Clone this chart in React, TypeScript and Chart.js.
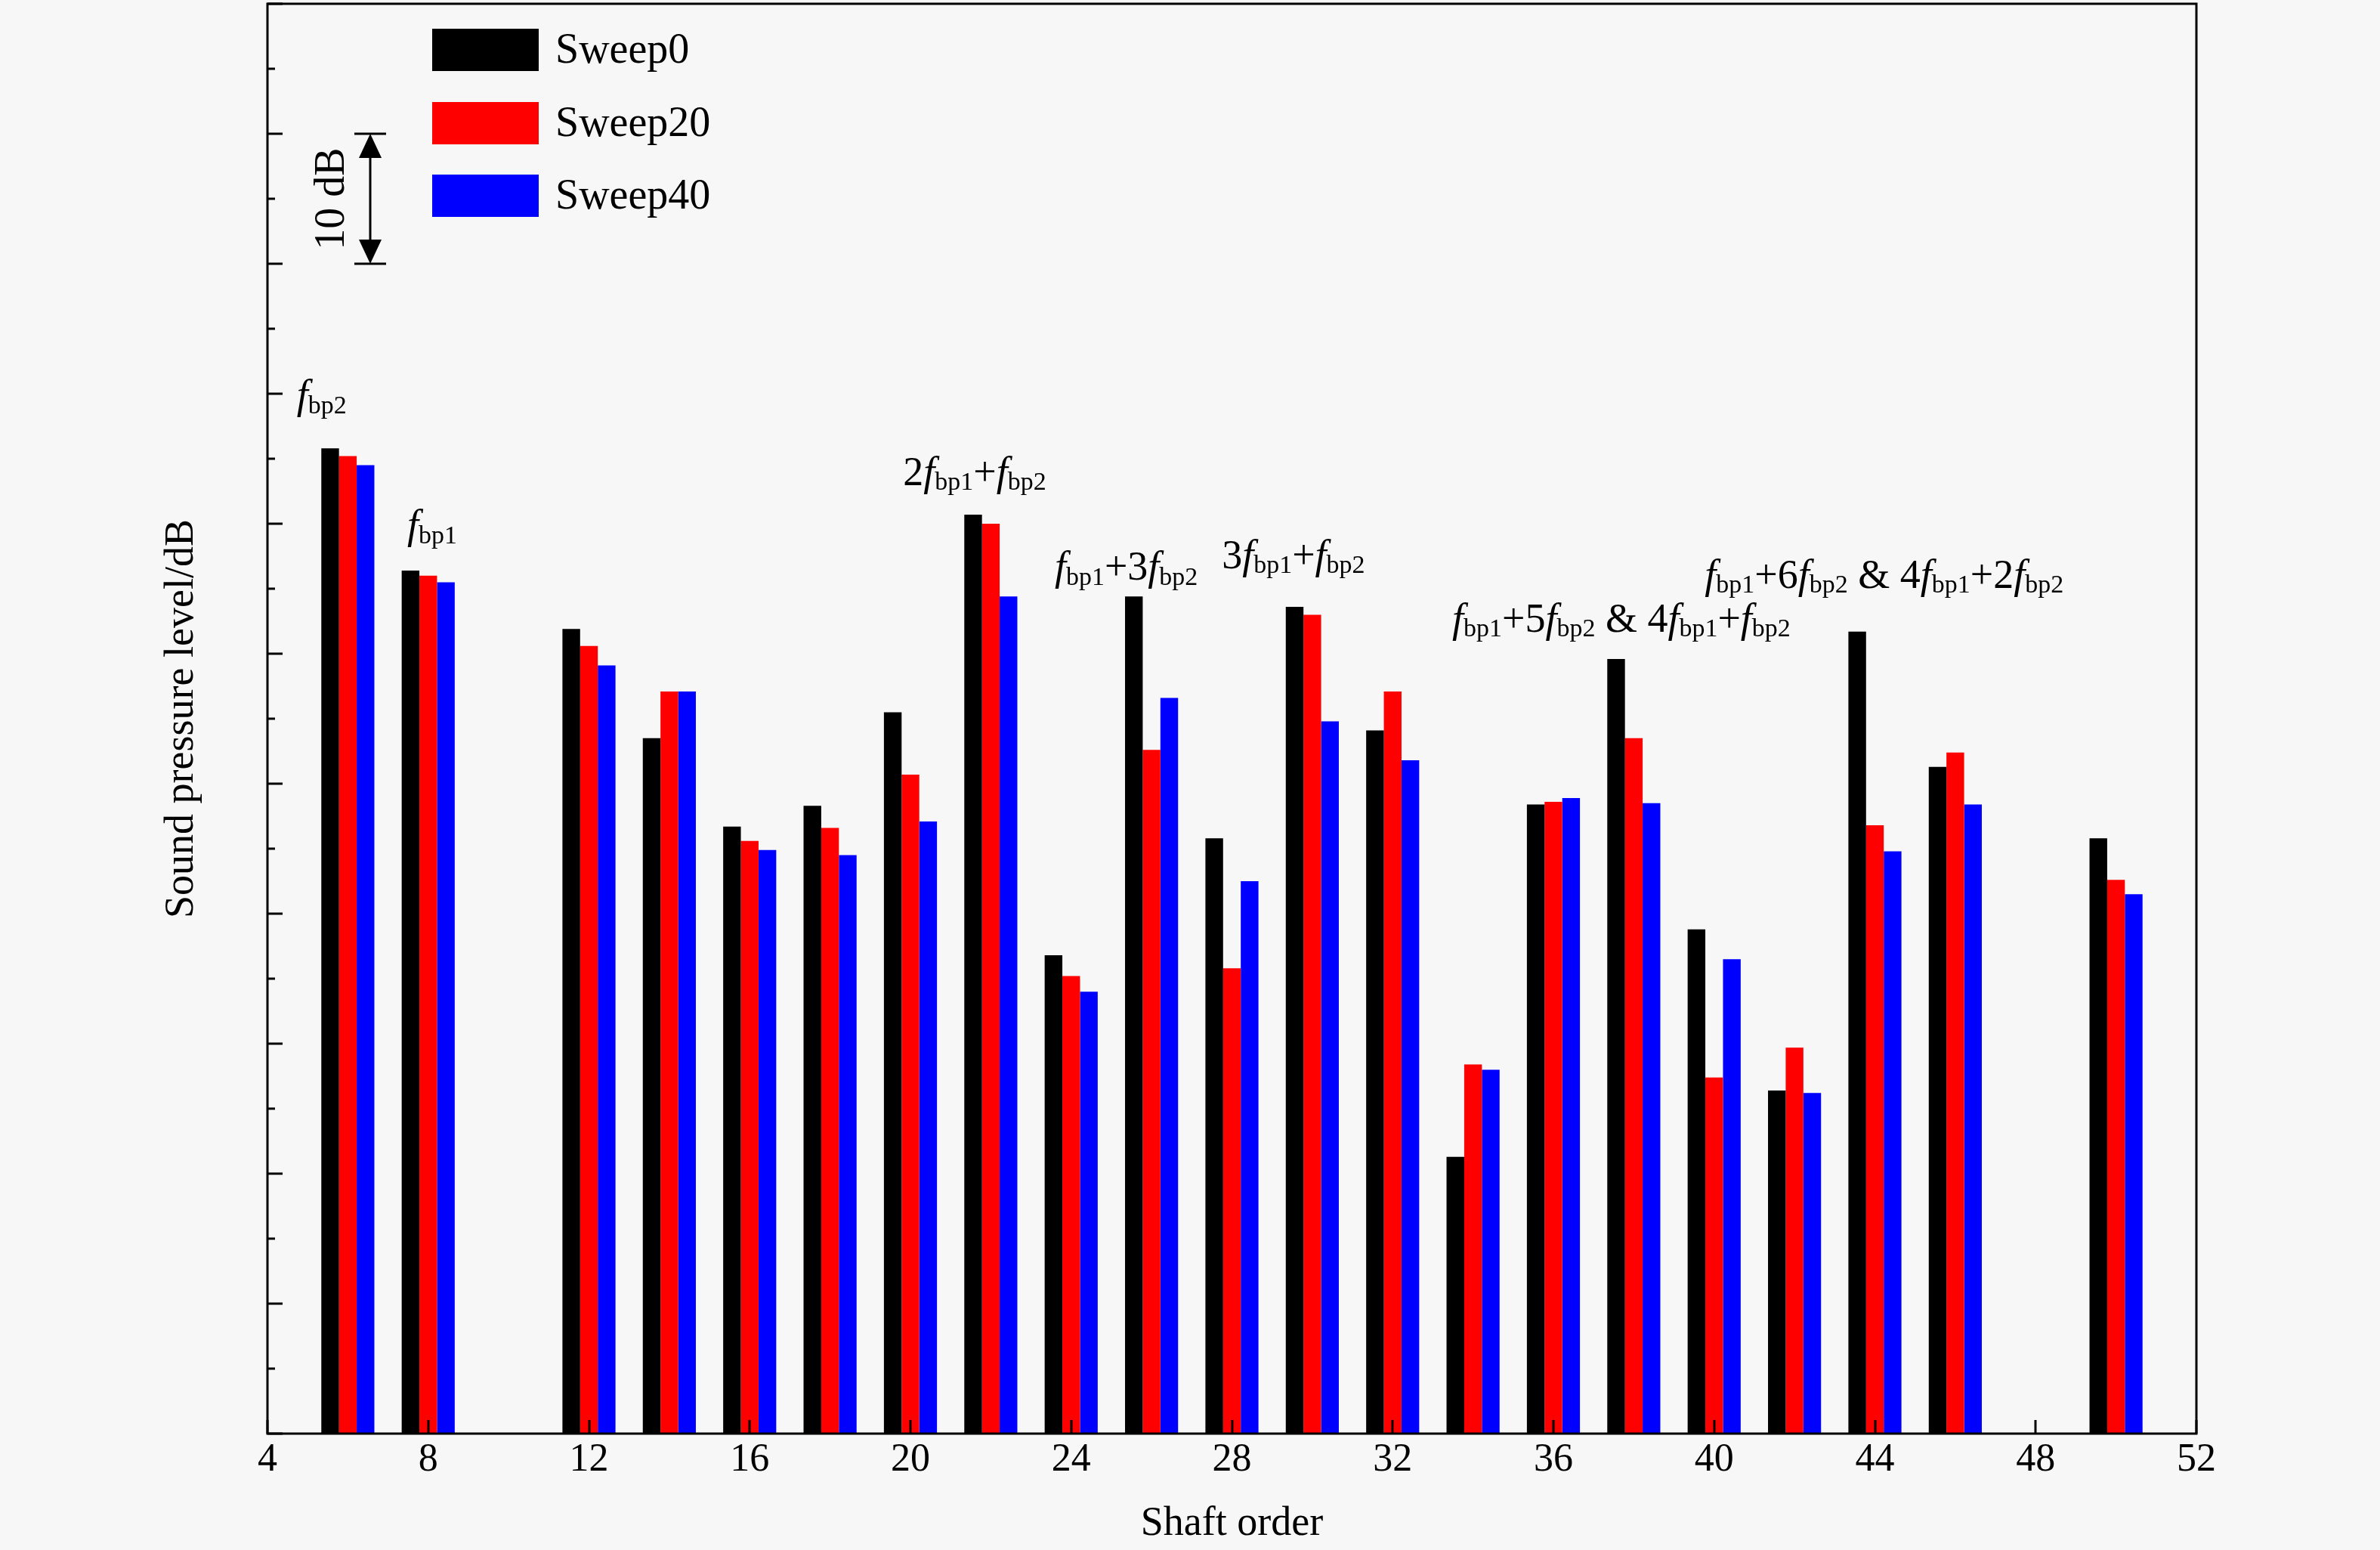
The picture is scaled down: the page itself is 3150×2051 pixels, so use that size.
import React, { useEffect, useRef } from 'react';
import { Chart, registerables } from 'chart.js';

Chart.register(...registerables);

// ---------- data ----------
const shaftOrders = [6, 8, 12, 14, 16, 18, 20, 22, 24, 26, 28, 30, 32, 34, 36, 38, 40, 42, 44, 46, 50];
const sweep0 = [75.8, 66.4, 61.9, 53.5, 46.7, 48.3, 55.5, 70.7, 36.8, 64.4, 45.8, 63.6, 54.1, 21.3, 48.4, 59.6, 38.8, 26.4, 61.7, 51.3, 45.8];
const sweep20 = [75.2, 66.0, 60.6, 57.1, 45.6, 46.6, 50.7, 70.0, 35.2, 52.6, 35.8, 63.0, 57.1, 28.4, 48.6, 53.5, 27.4, 29.7, 46.8, 52.4, 42.6];
const sweep40 = [74.5, 65.5, 59.1, 57.1, 44.9, 44.5, 47.1, 64.4, 34.0, 56.6, 42.5, 54.8, 51.8, 28.0, 48.9, 48.5, 36.5, 26.2, 44.8, 48.4, 41.5];
const seriesNames = ['Sweep0', 'Sweep20', 'Sweep40'];
const seriesColors = ['#000000', '#ff0000', '#0000ff'];
const seriesValues = [sweep0, sweep20, sweep40];

const xMin = 4;
const xMax = 52;
const xStep = 4;
const yMin = 0;
const yMax = 110;
const yStep = 5;

const xTitle = 'Shaft order';
const yTitle = 'Sound pressure level/dB';
const scaleBarLabel = '10 dB';
const scaleBarFrom = 100;
const scaleBarTo = 90;

// annotation segments: [text, kind]  n = normal, i = italic, s = subscript
type Seg = [string, 'n' | 'i' | 's'];
const annotationTexts: Seg[][] = [
  [['f', 'i'], ['bp2', 's']],
  [['f', 'i'], ['bp1', 's']],
  [['2', 'n'], ['f', 'i'], ['bp1', 's'], ['+', 'n'], ['f', 'i'], ['bp2', 's']],
  [['f', 'i'], ['bp1', 's'], ['+3', 'n'], ['f', 'i'], ['bp2', 's']],
  [['3', 'n'], ['f', 'i'], ['bp1', 's'], ['+', 'n'], ['f', 'i'], ['bp2', 's']],
  [['f', 'i'], ['bp1', 's'], ['+5', 'n'], ['f', 'i'], ['bp2', 's'], [' & 4', 'n'], ['f', 'i'], ['bp1', 's'], ['+', 'n'], ['f', 'i'], ['bp2', 's']],
  [['f', 'i'], ['bp1', 's'], ['+6', 'n'], ['f', 'i'], ['bp2', 's'], [' & 4', 'n'], ['f', 'i'], ['bp1', 's'], ['+2', 'n'], ['f', 'i'], ['bp2', 's']],
];
const annotationX = [5.35, 8.1, 21.6, 25.37, 29.53, 37.69, 44.23];
const annotationY = [79.7, 69.7, 73.8, 66.5, 67.4, 62.5, 65.9];

// ---------- styling ----------
const FONT = '"Liberation Serif", "Times New Roman", Times, serif';
const W = 3150;
const H = 2051;

function drawRich(ctx: CanvasRenderingContext2D, segs: Seg[], cx: number, baseY: number, main: number, sub: number) {
  const fontFor = (k: string) =>
    k === 'i' ? `italic ${main}px ${FONT}` : k === 's' ? `${sub}px ${FONT}` : `${main}px ${FONT}`;
  const widths = segs.map(([t, k]) => {
    ctx.font = fontFor(k);
    return ctx.measureText(t).width;
  });
  const total = widths.reduce((a, b) => a + b, 0);
  let xx = cx - total / 2;
  ctx.textAlign = 'left';
  ctx.textBaseline = 'alphabetic';
  segs.forEach(([t, k], i) => {
    ctx.font = fontFor(k);
    ctx.fillText(t, xx, k === 's' ? baseY + main * 0.12 : baseY);
    xx += widths[i];
  });
}

const overlayPlugin = {
  id: 'overlay',
  afterDatasetsDraw(chart: any) {
    const { ctx, chartArea: ca, scales } = chart;
    const x = scales.x;
    const y = scales.y;
    ctx.save();
    ctx.strokeStyle = '#000';
    ctx.fillStyle = '#000';
    ctx.lineWidth = 3;

    // frame
    ctx.strokeRect(ca.left, ca.top, ca.right - ca.left, ca.bottom - ca.top);

    // inward y ticks
    for (const t of y.ticks) {
      const py = Math.round(y.getPixelForValue(t.value));
      const len = Math.round(t.value) % 10 === 0 ? 20 : 10;
      ctx.beginPath();
      ctx.moveTo(ca.left, py);
      ctx.lineTo(ca.left + len, py);
      ctx.stroke();
    }
    // inward x ticks
    for (const t of x.ticks) {
      const px = Math.round(x.getPixelForValue(t.value));
      ctx.beginPath();
      ctx.moveTo(px, ca.bottom);
      ctx.lineTo(px, ca.bottom - 18);
      ctx.stroke();
    }

    // legend
    const swL = ca.left + 218;
    const swW = 141;
    const swH = 56;
    const rowCenters = [61, 158, 254];
    chart.data.datasets.forEach((ds: any, i: number) => {
      const cy = ca.top + rowCenters[i];
      ctx.fillStyle = ds.backgroundColor;
      ctx.fillRect(swL, cy - swH / 2, swW, swH);
      ctx.fillStyle = '#000';
      ctx.font = `56px ${FONT}`;
      ctx.textAlign = 'left';
      ctx.textBaseline = 'middle';
      ctx.fillText(ds.label, ca.left + 381, cy + 2);
    });

    // 10 dB scale bar
    const bx = ca.left + 136;
    const yTop = y.getPixelForValue(scaleBarFrom);
    const yBot = y.getPixelForValue(scaleBarTo);
    const capHalf = 21;
    const headLen = 32;
    const headHalf = 15;
    ctx.lineWidth = 3;
    ctx.beginPath();
    ctx.moveTo(bx - capHalf, yTop);
    ctx.lineTo(bx + capHalf, yTop);
    ctx.moveTo(bx - capHalf, yBot);
    ctx.lineTo(bx + capHalf, yBot);
    ctx.moveTo(bx, yTop + headLen);
    ctx.lineTo(bx, yBot - headLen);
    ctx.stroke();
    ctx.beginPath();
    ctx.moveTo(bx, yTop);
    ctx.lineTo(bx - headHalf, yTop + headLen);
    ctx.lineTo(bx + headHalf, yTop + headLen);
    ctx.closePath();
    ctx.fill();
    ctx.beginPath();
    ctx.moveTo(bx, yBot);
    ctx.lineTo(bx - headHalf, yBot - headLen);
    ctx.lineTo(bx + headHalf, yBot - headLen);
    ctx.closePath();
    ctx.fill();
    ctx.save();
    ctx.translate(ca.left + 84, (yTop + yBot) / 2);
    ctx.rotate(-Math.PI / 2);
    ctx.font = `56px ${FONT}`;
    ctx.textAlign = 'center';
    ctx.textBaseline = 'middle';
    ctx.fillText(scaleBarLabel, 0, 2);
    ctx.restore();

    // annotations
    ctx.fillStyle = '#000';
    annotationTexts.forEach((segs, i) => {
      const cx = x.getPixelForValue(annotationX[i]);
      const cy = y.getPixelForValue(annotationY[i]);
      drawRich(ctx, segs, cx, cy + 14, 54, 34);
    });

    ctx.restore();
  },
};

export default function App() {
  const canvasRef = useRef<HTMLCanvasElement | null>(null);

  useEffect(() => {
    const canvas = canvasRef.current;
    if (!canvas) return;
    const chart = new Chart(canvas, {
      type: 'bar',
      data: {
        datasets: seriesNames.map((name, i) => ({
          label: name,
          data: shaftOrders.map((o, j) => ({ x: o, y: seriesValues[i][j] })),
          backgroundColor: seriesColors[i],
          borderWidth: 0,
          categoryPercentage: 0.66,
          barPercentage: 1.0,
        })),
      },
      options: {
        responsive: false,
        animation: false,
        devicePixelRatio: 1,
        layout: { padding: { top: 5, right: 243, left: 0, bottom: 0 } },
        plugins: {
          legend: { display: false },
          tooltip: { enabled: false },
        },
        scales: {
          x: {
            type: 'linear',
            min: xMin,
            max: xMax,
            offset: false,
            ticks: {
              stepSize: xStep,
              font: { family: FONT, size: 52 },
              color: '#000',
              padding: 4,
              maxRotation: 0,
              autoSkip: false,
            },
            grid: { display: false, drawTicks: false },
            border: { display: false },
            title: {
              display: true,
              text: xTitle,
              color: '#000',
              font: { family: FONT, size: 54 },
              padding: { top: 0, bottom: 2 },
            },
            afterFit: (s: any) => {
              s.height = 154;
            },
          },
          y: {
            type: 'linear',
            min: yMin,
            max: yMax,
            ticks: { stepSize: yStep, display: false },
            grid: { display: false, drawTicks: false },
            border: { display: false },
            title: {
              display: true,
              text: yTitle,
              color: '#000',
              font: { family: FONT, size: 54 },
              padding: { top: 208, bottom: 0 },
            },
            afterFit: (s: any) => {
              s.width = 354;
            },
          },
        },
      } as any,
      plugins: [overlayPlugin],
    });
    return () => chart.destroy();
  }, []);

  return (
    <div style={{ position: 'absolute', left: 0, top: 0, width: W, height: H, background: '#f7f7f7', overflow: 'hidden' }}>
      <canvas ref={canvasRef} width={W} height={H} style={{ display: 'block', width: W, height: H }} />
    </div>
  );
}
